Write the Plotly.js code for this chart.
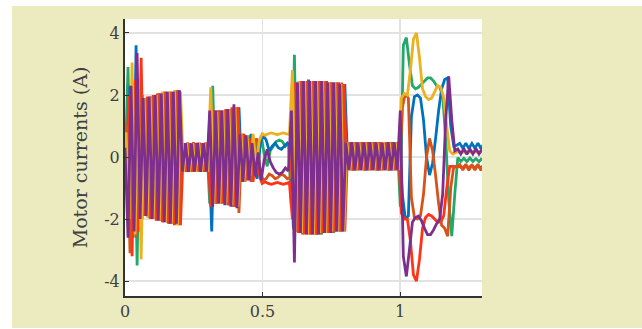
<!DOCTYPE html>
<html>
<head>
<meta charset="utf-8">
<script src="https://cdn.plot.ly/plotly-3.0.1.min.js"></script>
<style>
  html, body { margin: 0; padding: 0; background: #ffffff; width: 642px; height: 329px; overflow: hidden; }
  #chart { position: absolute; left: 12px; top: 6px; width: 630px; height: 322px; }
</style>
</head>
<body>
<div id="chart"></div>
<script>
// Sampling of the recorded currents (seconds)
const sampleStep = 0.011;
const startGreenPurple = 0.0;
const startYellowRed = 0.0037;
const startBlueOrange = 0.0073;

// Motor currents (A), one value per sample
const currentGreen = [
  -0.5, 2.9, -2.2, 2.4, -3.5, 2.2, -1.9, 1.9, -1.95, 1.95, -2.0, 2.05, -2.05, 2.1, -2.1, 2.1, -2.15, 2.1, -2.15,
  0.45, -0.47, 0.44, -0.48, 0.45, -0.46, 0.44, -0.48, 0.45,
  -1.5, 2.3, -1.5, 1.5, -1.5, 1.5, -1.55, 1.55, -1.6, 1.6,
  -0.8, 0.75, -0.7, 0.7, -0.5, 0.6, -0.2, 0.7, 0.1, -0.3, 0.2, 0.35, 0.5, 0.55, 0.5, 0.35, 0.45,
  -1.6, 3.3, -2.4, 2.4, -2.45, 2.45, -2.45, 2.45, -2.5, 2.45, -2.5, 2.45, -2.45, 2.4, -2.45, 2.4, -2.4, 2.35,
  -0.42, 0.47, -0.43, 0.48, -0.42, 0.46, -0.43, 0.47, -0.42, 0.48, -0.43, 0.47, -0.42, 0.46, -0.43, 0.48, -0.42, 0.47,
  -1.6, 3.6, 3.85, 3.0, 2.3, 2.2, 2.25, 2.35, 2.45, 2.55, 2.55, 2.45, 2.3, 2.25, 2.0, 0.6, -1.4, -2.55, -1.2,
  -0.02, -0.14, -0.04, -0.15, -0.03, -0.14, -0.05, -0.15, -0.04
];
const currentPurple = [
  0.3, -2.6, 2.3, -2.4, 3.35, -2.0, 1.9, -1.9, 1.95, -2.0, 2.0, -2.05, 2.05, -2.1, 2.1, -2.15, 2.1, -2.15, 2.15,
  -0.47, 0.45, -0.48, 0.44, -0.47, 0.46, -0.48, 0.45, -0.47,
  1.5, -1.6, 1.5, -1.5, 1.5, -1.55, 1.55, -1.6, 1.7, -1.65,
  0.75, -0.8, 0.7, -0.75, 0.45, -0.6, 0.15, -0.75, -0.1, 0.25, -0.15, -0.35, -0.5, -0.55, -0.5, -0.35, -0.45,
  1.5, -3.4, 2.4, -2.45, 2.45, -2.5, 2.45, -2.5, 2.45, -2.5, 2.45, -2.45, 2.4, -2.45, 2.4, -2.4, 2.35, -2.4,
  0.47, -0.42, 0.48, -0.43, 0.46, -0.42, 0.47, -0.43, 0.48, -0.42, 0.47, -0.43, 0.46, -0.42, 0.48, -0.43, 0.47, -0.42,
  1.5, -3.2, -3.85, -3.0, -2.1, -1.95, -1.9, -2.05, -2.3, -2.5, -2.5, -2.35, -2.15, -2.0, -1.2, 1.2, 2.6, 1.2, 0.2,
  0.26, 0.1, 0.27, 0.09, 0.26, 0.1, 0.27, 0.1, 0.26
];
const currentYellow = [
  0.8, -2.0, 3.05, -2.5, 2.4, -3.3, 1.9, -1.95, 1.95, -2.0, 2.0, -2.05, 2.1, -2.1, 2.1, -2.15, 2.15, -2.2, 2.1,
  -0.46, 0.45, -0.47, 0.44, -0.48, 0.45, -0.46, 0.44, -0.47,
  2.25, -1.5, 1.45, -1.5, 1.5, -1.5, 1.55, -1.55, 1.6, -1.6,
  0.75, -0.8, 0.7, -0.6, 0.75, -0.3, 0.5, 0.75, 0.7, 0.75, 0.78, 0.75, 0.72, 0.75, 0.78, 0.75, 0.72,
  2.8, -2.4, 2.45, -2.45, 2.45, -2.5, 2.45, -2.5, 2.45, -2.45, 2.45, -2.45, 2.4, -2.4, 2.4, -2.4, 2.35, -2.4,
  0.47, -0.42, 0.48, -0.43, 0.47, -0.42, 0.46, -0.43, 0.48, -0.42, 0.47, -0.43, 0.48, -0.42, 0.46, -0.43, 0.47, -0.42,
  1.9, 2.05, 2.0, 2.8, 3.8, 4.0, 3.2, 2.2, 1.95, 1.85, 1.9, 2.1, 2.3, 2.25, 1.9, 1.0, 0.2, 0.1, 0.15,
  0.17, 0.16, 0.17, 0.16, 0.17, 0.16, 0.17, 0.16, 0.17
];
const currentRed = [
  -0.5, 2.0, -3.2, 2.5, -2.4, 3.2, -1.9, 1.95, -2.0, 2.0, -2.05, 2.05, -2.1, 2.1, -2.15, 2.1, -2.2, 2.15, -2.2,
  0.44, -0.47, 0.45, -0.48, 0.44, -0.46, 0.45, -0.47, 0.44,
  -1.6, 1.5, -1.5, 1.5, -1.5, 1.55, -1.55, 1.6, -1.6, 1.6,
  -0.8, 0.75, -0.75, 0.6, -0.8, 0.25, -0.55, -0.85, -0.8, -0.85, -0.88, -0.85, -0.82, -0.85, -0.88, -0.85, -0.82,
  -2.0, 2.4, -2.45, 2.45, -2.5, 2.45, -2.5, 2.45, -2.5, 2.45, -2.45, 2.45, -2.45, 2.4, -2.4, 2.4, -2.4, 2.35,
  -0.42, 0.47, -0.43, 0.46, -0.42, 0.48, -0.43, 0.47, -0.42, 0.46, -0.43, 0.48, -0.42, 0.47, -0.43, 0.46, -0.42, 0.47,
  -1.8, -2.0, -2.0, -2.7, -3.8, -4.0, -3.3, -2.3, -1.95, -1.85, -1.9, -2.0, -2.1, -2.1, -1.9, -1.0, -0.3, -0.3, -0.3,
  -0.3, -0.34, -0.3, -0.34, -0.3, -0.34, -0.3, -0.34, -0.3
];
const currentBlue = [
  -1.0, 2.3, -2.6, 3.6, -2.4, 2.0, -1.9, 1.9, -1.95, 2.0, -2.0, 2.05, -2.1, 2.1, -2.15, 2.1, -2.15, 2.15,
  -0.46, 0.45, -0.47, 0.44, -0.48, 0.45, -0.46, 0.44, -0.47, 0.5,
  -2.4, 1.5, -1.5, 1.5, -1.5, 1.5, -1.55, 1.55, -1.6, 1.6,
  -0.75, 0.7, -0.55, 0.75, -0.4, -0.7, 0.4, 0.7, 0.55, 0.2, 0.35, 0.45, 0.3, 0.25, 0.35, 0.45, 0.35,
  -2.3, 2.4, -2.45, 2.45, -2.45, 2.5, -2.5, 2.45, -2.5, 2.45, -2.45, 2.45, -2.45, 2.4, -2.4, 2.4, -2.4, 2.35,
  -0.42, 0.47, -0.43, 0.48, -0.42, 0.46, -0.43, 0.47, -0.42, 0.48, -0.43, 0.47, -0.42, 0.46, -0.43, 0.48, -0.42, 0.47,
  -1.2, -2.0, -1.9, 1.3, 1.95, 2.0, 1.9, 1.2, 0.0, -0.58, -0.2, 0.6, 1.5, 2.2, 2.5, 2.55, 1.0, 0.35, 0.38,
  0.44, 0.28, 0.45, 0.27, 0.44, 0.28, 0.45, 0.27, 0.44
];
const currentOrange = [
  1.0, -3.1, 2.4, -2.6, 2.2, -2.0, 1.9, -1.95, 1.95, -2.0, 2.05, -2.05, 2.1, -2.1, 2.1, -2.15, 2.15, -2.2,
  0.46, -0.45, 0.47, -0.44, 0.48, -0.45, 0.46, -0.44, 0.47, -0.5,
  1.6, -1.5, 1.5, -1.5, 1.5, -1.5, 1.55, -1.6, 1.6, -1.8,
  0.75, -0.8, 0.5, -0.8, 0.35, 0.6, -0.45, -0.75, -0.7, -0.55, -0.6, -0.7, -0.65, -0.55, -0.6, -0.7, -0.65,
  2.2, -2.4, 2.45, -2.5, 2.45, -2.5, 2.45, -2.5, 2.45, -2.5, 2.45, -2.45, 2.4, -2.45, 2.4, -2.4, 2.4, -2.4,
  0.47, -0.42, 0.46, -0.43, 0.48, -0.42, 0.47, -0.43, 0.46, -0.42, 0.48, -0.43, 0.47, -0.42, 0.46, -0.43, 0.48, -0.42,
  1.6, 2.05, 1.9, -1.3, -1.95, -2.0, -1.9, -1.2, 0.0, 0.6, 0.2, -0.6, -1.5, -2.2, -2.3, -2.55, -1.0, -0.3, -0.32,
  -0.24, -0.42, -0.23, -0.43, -0.24, -0.42, -0.23, -0.43, -0.24
];

const xTickValues = [0, 0.5, 1];
const xTickLabels = ['0', '0.5', '1'];
const yTickValues = [-4, -2, 0, 2, 4];
const yTickLabels = ['-4', '-2', '0', '2', '4'];

// drawing order: first is at the bottom
const seriesList = [
  { y: currentGreen,  x0: startGreenPurple, color: '#23a86c' },
  { y: currentBlue,   x0: startBlueOrange,  color: '#0072BD' },
  { y: currentRed,    x0: startYellowRed,   color: '#ff3414' },
  { y: currentOrange, x0: startBlueOrange,  color: '#D95319' },
  { y: currentYellow, x0: startYellowRed,   color: '#EDB120' },
  { y: currentPurple, x0: startGreenPurple, color: '#7E2F8E' }
];

const traces = seriesList.map(s => ({
  type: 'scatter',
  mode: 'lines',
  y: s.y,
  x0: s.x0,
  dx: sampleStep,
  line: { color: s.color, width: 2.8, simplify: false },
  hoverinfo: 'skip',
  showlegend: false
}));

const serif = '"DejaVu Serif", "Liberation Serif", serif';
const tickFont = { family: serif, size: 16, color: '#404040' };
const titleFont = { family: serif, size: 19, color: '#404040' };

const layout = {
  width: 630,
  height: 322,
  paper_bgcolor: '#ECEBC0',
  plot_bgcolor: '#ffffff',
  margin: { l: 113, r: 160, t: 13, b: 32 },
  showlegend: false,
  xaxis: {
    range: [0, 1.298],
    tickvals: xTickValues,
    ticktext: xTickLabels,
    ticks: 'inside',
    ticklen: 4,
    tickcolor: '#333333',
    showline: true,
    linecolor: '#333333',
    linewidth: 2,
    showgrid: true,
    gridcolor: '#e2e2e2',
    gridwidth: 1.5,
    zeroline: false,
    tickfont: tickFont
  },
  yaxis: {
    range: [-4.48, 4.45],
    tickvals: yTickValues,
    ticktext: yTickLabels,
    ticks: 'inside',
    ticklen: 4,
    tickcolor: '#333333',
    showline: true,
    linecolor: '#333333',
    linewidth: 2,
    showgrid: true,
    gridcolor: '#e2e2e2',
    gridwidth: 1.5,
    zeroline: false,
    tickfont: tickFont,
    title: { text: 'Motor currents (A)', font: titleFont, standoff: 12 }
  }
};

Plotly.newPlot('chart', traces, layout, { displayModeBar: false, staticPlot: true });
</script>
</body>
</html>
